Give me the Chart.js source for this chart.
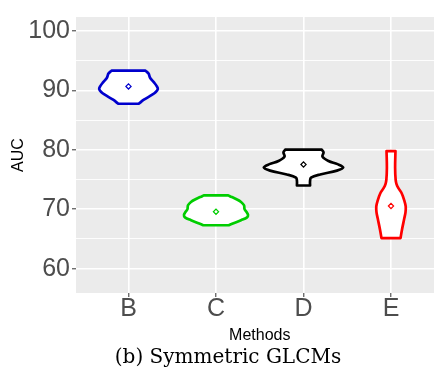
<!DOCTYPE html>
<html>
<head>
<meta charset="utf-8">
<script src="https://cdn.jsdelivr.net/npm/chart.js@4.4.0/dist/chart.umd.min.js"></script>
<style>
  html, body { margin: 0; padding: 0; background: #ffffff; overflow: hidden; width: 434px; height: 369px; }
  #wrap { position: relative; width: 456px; height: 369px; }
</style>
</head>
<body>
<div id="wrap"><canvas id="chart" width="456" height="369"></canvas></div>
<script>
// Methods compared and their colours
const methods = ['B', 'C', 'D', 'E'];
const methodColors = ['#0000CD', '#00CD00', '#000000', '#FF0000'];

// Mean AUC per method (diamond markers)
const meanAUC = [90.68, 69.58, 77.53, 70.55];

// Violin outlines: AUC levels (top to bottom) and half-widths in category units
const levelsB = [93.34, 92.84, 92.10, 91.36, 90.70, 90.24, 89.75, 89.29, 88.44, 87.76];
const widthsB = [0.194, 0.229, 0.248, 0.291, 0.324, 0.335, 0.312, 0.271, 0.176, 0.117];

const levelsC = [72.34, 72.05, 71.72, 71.23, 70.67, 70.02, 69.53, 69.04, 68.64, 68.15, 67.66, 67.31];
const widthsC = [0.140, 0.180, 0.229, 0.286, 0.320, 0.326, 0.349, 0.366, 0.355, 0.286, 0.200, 0.145];

const levelsD = [80.03, 79.59, 78.86, 78.13, 77.60, 77.05, 76.51, 75.86, 75.32, 74.77, 74.00];
const widthsD = [0.209, 0.229, 0.217, 0.286, 0.389, 0.454, 0.382, 0.191, 0.086, 0.075, 0.075];

const levelsE = [79.80, 77.00, 75.00, 74.24, 73.59, 72.70, 71.48, 70.50, 69.53, 68.47, 66.60, 65.14];
const widthsE = [0.051, 0.047, 0.053, 0.063, 0.083, 0.122, 0.152, 0.168, 0.166, 0.152, 0.126, 0.109];

// Axis ticks
const yMajorTicks = [60, 70, 80, 90, 100];
const yMinorTicks = [65, 75, 85, 95];

const violinLevels = [levelsB, levelsC, levelsD, levelsE];
const violinWidths = [widthsB, widthsC, widthsD, widthsE];

// Closed outline around one violin: right edge downward, left edge upward.
// Flat caps use doubled corner points so the spline keeps them sharp.
function violinOutline(center, levels, halfWidths) {
  const n = levels.length;
  const pts = [{ x: center, y: levels[0] }];
  pts.push({ x: center + halfWidths[0], y: levels[0] });
  for (let i = 0; i < n; i++) pts.push({ x: center + halfWidths[i], y: levels[i] });
  pts.push({ x: center + halfWidths[n - 1], y: levels[n - 1] });
  pts.push({ x: center - halfWidths[n - 1], y: levels[n - 1] });
  for (let i = n - 1; i >= 0; i--) pts.push({ x: center - halfWidths[i], y: levels[i] });
  pts.push({ x: center - halfWidths[0], y: levels[0] });
  pts.push({ x: center, y: levels[0] });
  return pts;
}

const datasets = methods.map((m, i) => ({
  label: m,
  order: 1,
  data: violinOutline(i + 1, violinLevels[i], violinWidths[i]),
  indexAxis: 'y',
  showLine: true,
  borderColor: methodColors[i],
  borderWidth: 2.7,
  borderJoinStyle: 'round',
  backgroundColor: '#FFFFFF',
  fill: 'shape',
  tension: 0.35,
  pointRadius: 0,
  pointHoverRadius: 0
}));

// Means are drawn above the violins
datasets.push({
  label: 'mean',
  order: 0,
  data: meanAUC.map((v, i) => ({ x: i + 1, y: v })),
  showLine: false,
  pointStyle: 'rectRot',
  pointRadius: 2.6,
  pointBorderWidth: 1.2,
  pointBorderColor: methodColors,
  pointBackgroundColor: '#FFFFFF'
});

// Grey panel behind the plotting area
const panelBackground = {
  id: 'panelBackground',
  beforeDraw(chart) {
    const { ctx, chartArea: a } = chart;
    ctx.save();
    ctx.fillStyle = '#EBEBEB';
    ctx.fillRect(a.left, a.top, a.right - a.left, a.bottom - a.top);
    ctx.restore();
  }
};

Chart.defaults.font.family = "'Liberation Sans', Arial, sans-serif";

new Chart(document.getElementById('chart'), {
  type: 'scatter',
  data: { datasets },
  plugins: [panelBackground],
  options: {
    responsive: false,
    devicePixelRatio: 1,
    animation: false,
    layout: { padding: { top: 7, right: 12.5, bottom: 0, left: 12.5 } },
    plugins: {
      legend: { display: false },
      tooltip: { enabled: false },
      title: {
        display: true,
        position: 'bottom',
        text: '(b) Symmetric GLCMs',
        color: '#000000',
        font: { family: "'DejaVu Serif', serif", size: 20, weight: 'normal', lineHeight: 1.15 },
        padding: { top: 0, bottom: 0 }
      }
    },
    scales: {
      x: {
        type: 'linear',
        position: 'bottom',
        min: 0.4,
        max: 4.6,
        afterBuildTicks(scale) { scale.ticks = methods.map((_, i) => ({ value: i + 1 })); },
        afterFit(scale) { scale.height = 53; },
        border: { display: false },
        grid: { color: '#FFFFFF', lineWidth: 1.6, tickLength: 4, tickColor: '#333333', tickWidth: 1 },
        ticks: {
          autoSkip: false,
          maxRotation: 0,
          padding: 0,
          color: '#4D4D4D',
          font: { size: 25, lineHeight: 1 },
          callback: (v) => methods[Math.round(v) - 1]
        },
        title: {
          display: true,
          text: 'Methods',
          color: '#000000',
          font: { size: 16 },
          padding: { top: 0, bottom: 1 }
        }
      },
      y: {
        type: 'linear',
        position: 'left',
        min: 55.9,
        max: 102.37,
        afterBuildTicks(scale) {
          scale.ticks = yMajorTicks.concat(yMinorTicks).sort((a, b) => a - b).map(v => ({ value: v }));
        },
        afterFit(scale) { scale.width = 63.5; },
        border: { display: false },
        grid: {
          color: '#FFFFFF',
          lineWidth: (ctx) => yMajorTicks.includes(ctx.tick && ctx.tick.value) ? 1.6 : 0.9,
          tickLength: 4,
          tickWidth: 1,
          tickColor: (ctx) => yMajorTicks.includes(ctx.tick && ctx.tick.value) ? '#333333' : 'rgba(0,0,0,0)'
        },
        ticks: {
          autoSkip: false,
          padding: 2,
          color: '#4D4D4D',
          font: { size: 25 },
          callback: (v) => yMajorTicks.includes(v) ? String(v) : ''
        },
        title: {
          display: true,
          text: 'AUC',
          color: '#000000',
          font: { size: 16 },
          padding: { top: -4, bottom: 0 }
        }
      }
    }
  }
});
</script>
</body>
</html>
